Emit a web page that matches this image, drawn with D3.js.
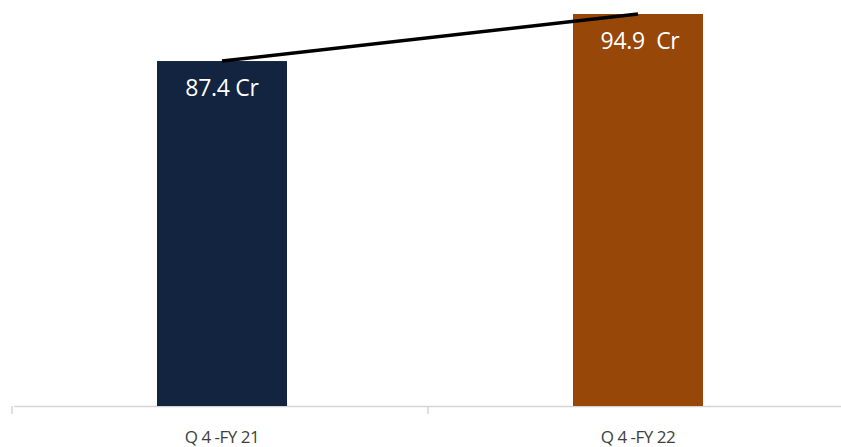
<!DOCTYPE html>
<html><head><meta charset="utf-8">
<script src="https://cdn.jsdelivr.net/npm/d3@7"></script>
<style>body{margin:0;background:#fff;}svg{display:block;}</style>
</head><body>
<svg id="c" width="841" height="447"></svg>
<script>
const categories = ["Q 4 -FY 21", "Q 4 -FY 22"];
const values = [87.4, 94.9];
const valueLabels = ["87.4 Cr", "94.9\u00a0\u00a0Cr"];
const colors = ["#12243f", "#974707"];

const svg = d3.select("#c");
const x = d3.scaleBand().domain(categories).range([14, 846]).paddingInner(0).paddingOuter(0);
const barW = 130;
const y = d3.scaleLinear().domain([32.4, 94.9]).range([406, 14]);

const axis = d3.axisBottom(x).tickSize(0).tickFormat("");
const g = svg.append("g").attr("transform", "translate(0,406)").call(axis);
g.select(".domain").attr("stroke", "#d4d4d4").attr("stroke-width", 1.5);
const bounds = [x.range()[0] - 2, x.range()[0] + x.step() - 2];
svg.selectAll("line.tk").data(bounds).enter().append("line")
  .attr("x1", d => d).attr("x2", d => d).attr("y1", 406).attr("y2", 414)
  .attr("stroke", "#d4d4d4").attr("stroke-width", 1.5);

svg.selectAll("rect.bar").data(values).enter().append("rect")
  .attr("x", (d, i) => x(categories[i]) + x.bandwidth() / 2 - barW / 2)
  .attr("y", d => y(d))
  .attr("width", barW)
  .attr("height", d => y.range()[0] - y(d))
  .attr("fill", (d, i) => colors[i]);

const line = d3.line().x((d, i) => x(categories[i]) + x.bandwidth() / 2).y(d => y(d));
svg.append("path").datum(values).attr("d", line).attr("fill", "none")
  .attr("stroke", "#000").attr("stroke-width", 3.5);

svg.selectAll("text.vl").data(values).enter().append("text")
  .attr("x", (d, i) => x(categories[i]) + x.bandwidth() / 2 + (i ? 2 : 0))
  .attr("y", d => y(d) + 35)
  .attr("text-anchor", "middle")
  .attr("fill", "#fff")
  .style("font-family", "'Open Sans', sans-serif")
  .style("font-size", "23px")
  .style("letter-spacing", "-0.3px")
  .text((d, i) => valueLabels[i]);

svg.selectAll("text.cl").data(categories).enter().append("text")
  .attr("x", d => x(d) + x.bandwidth() / 2)
  .attr("y", 443)
  .attr("text-anchor", "middle")
  .attr("fill", "#404040")
  .style("font-family", "'Open Sans', sans-serif")
  .style("font-size", "17px")
  .style("letter-spacing", "-0.5px")
  .text(d => d);
</script>
</body></html>
